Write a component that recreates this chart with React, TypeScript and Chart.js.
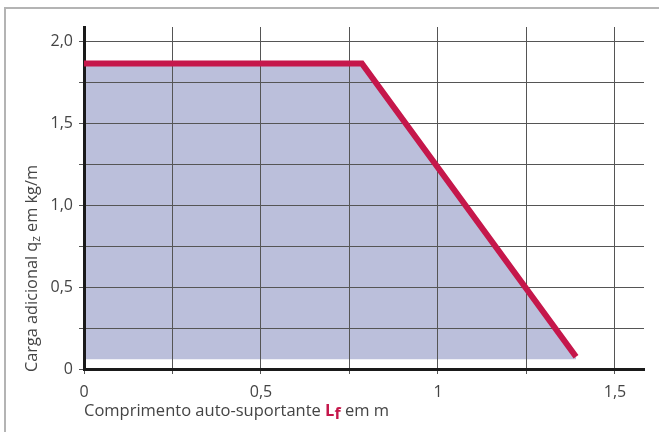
import React, { useEffect, useRef } from "react";
import { Chart, registerables } from "chart.js";

Chart.register(...registerables);

// Data
const lineX = [0, 0.785, 1.39];
const lineY = [1.867, 1.867, 0.075];
const fillBase = 0.06;
const xTickLabels = ["0", "0,5", "1", "1,5"];
const yTickLabels = ["0", "0,5", "1,0", "1,5", "2,0"];
const xTitleParts = ["Comprimento auto-suportante ", "L", "f", " em m"];
const yTitleParts = ["Carga adicional q", "z", " em kg/m"];

const RED = "#C5174B";
const FILL = "#BBBFDB";
const GRID = "#555555";
const TEXT = "#444444";
const FONT = "Open Sans";

const fmtX = (v: number) => {
  const k = Math.round(v * 2);
  if (Math.abs(v * 2 - k) > 1e-6) return "";
  return xTickLabels[k] ?? "";
};
const fmtY = (v: number) => {
  const k = Math.round(v * 2);
  if (Math.abs(v * 2 - k) > 1e-6) return "";
  return yTickLabels[k] ?? "";
};

const overlay = {
  id: "overlay",
  beforeDraw(chart: any) {
    const ctx = chart.ctx;
    ctx.save();
    ctx.strokeStyle = "#B4B4B4";
    ctx.lineWidth = 2;
    ctx.beginPath();
    ctx.moveTo(5, 432);
    ctx.lineTo(5, 8);
    ctx.lineTo(659, 8);
    ctx.stroke();
    ctx.restore();
  },
  beforeDatasetDraw(chart: any, args: any) {
    if (args.index !== 0) return;
    const x = chart.scales.x;
    const y = chart.scales.y;
    x.drawGrid(chart.chartArea);
    y.drawGrid(chart.chartArea);
    x.drawBorder();
    y.drawBorder();
  },
  afterDraw(chart: any) {
    const ctx = chart.ctx;
    ctx.save();
    // X title
    let cx = 84;
    const by = 416;
    ctx.textBaseline = "alphabetic";
    ctx.textAlign = "left";
    ctx.font = `16.5px "${FONT}"`;
    ctx.fillStyle = TEXT;
    ctx.fillText(xTitleParts[0], cx, by);
    cx += ctx.measureText(xTitleParts[0]).width;
    ctx.font = `bold 16.5px "${FONT}"`;
    ctx.fillStyle = RED;
    ctx.fillText(xTitleParts[1], cx, by);
    cx += ctx.measureText(xTitleParts[1]).width;
    ctx.font = `bold 16px "${FONT}"`;
    ctx.fillText(xTitleParts[2], cx, by + 3);
    cx += ctx.measureText(xTitleParts[2]).width;
    ctx.font = `16.5px "${FONT}"`;
    ctx.fillStyle = TEXT;
    ctx.fillText(xTitleParts[3], cx, by);

    // Y title
    ctx.translate(37, 372);
    ctx.rotate(-Math.PI / 2);
    let tx = 0;
    ctx.font = `16.3px "${FONT}"`;
    ctx.fillText(yTitleParts[0], tx, 0);
    tx += ctx.measureText(yTitleParts[0]).width;
    ctx.font = `12px "${FONT}"`;
    ctx.fillText(yTitleParts[1], tx, 3);
    tx += ctx.measureText(yTitleParts[1]).width;
    ctx.font = `16.3px "${FONT}"`;
    ctx.fillText(yTitleParts[2], tx, 0);
    ctx.restore();
  },
};

export default function App() {
  const ref = useRef<HTMLCanvasElement>(null);
  useEffect(() => {
    if (!ref.current) return;
    const pts = lineX.map((x, i) => ({ x, y: lineY[i] }));
    const chart = new Chart(ref.current, {
      type: "line",
      data: {
        datasets: [
          {
            data: pts,
            borderColor: RED,
            borderWidth: 6,
            borderCapStyle: "butt",
            borderJoinStyle: "miter",
            pointRadius: 0,
            tension: 0,
            fill: false,
          },
          {
            data: pts,
            borderWidth: 0,
            borderColor: "rgba(0,0,0,0)",
            backgroundColor: FILL,
            pointRadius: 0,
            tension: 0,
            fill: { value: fillBase },
          },
        ],
      },
      options: {
        responsive: false,
        animation: false,
        events: [],
        layout: { padding: { top: 27, right: 15, left: 0, bottom: 0 } },
        plugins: { legend: { display: false }, tooltip: { enabled: false } },
        scales: {
          x: {
            type: "linear",
            min: 0,
            max: 1.582,
            afterFit: (s: any) => {
              s.height = 63;
            },
            ticks: {
              stepSize: 0.25,
              includeBounds: false,
              autoSkip: false,
              maxRotation: 0,
              callback: (v: any) => fmtX(Number(v)),
              font: { family: FONT, size: 16 },
              color: TEXT,
              padding: 9,
            },
            grid: { color: GRID, lineWidth: 1, tickLength: 5, drawTicks: true },
            border: { display: true, color: "#1a1a1a", width: 3 },
          },
          y: {
            type: "linear",
            min: 0,
            max: 2.09,
            afterFit: (s: any) => {
              s.width = 84;
            },
            ticks: {
              stepSize: 0.25,
              includeBounds: false,
              autoSkip: false,
              callback: (v: any) => fmtY(Number(v)),
              font: { family: FONT, size: 16 },
              color: TEXT,
              padding: 6,
            },
            grid: { color: GRID, lineWidth: 1, tickLength: 5, drawTicks: true },
            border: { display: true, color: "#1a1a1a", width: 3 },
          },
        },
      },
      plugins: [overlay],
    } as any);
    return () => chart.destroy();
  }, []);
  return (
    <div style={{ position: "fixed", left: 0, top: 0, width: 659, height: 432, background: "#fff" }}>
      <canvas ref={ref} width={659} height={432} style={{ display: "block" }} />
    </div>
  );
}
